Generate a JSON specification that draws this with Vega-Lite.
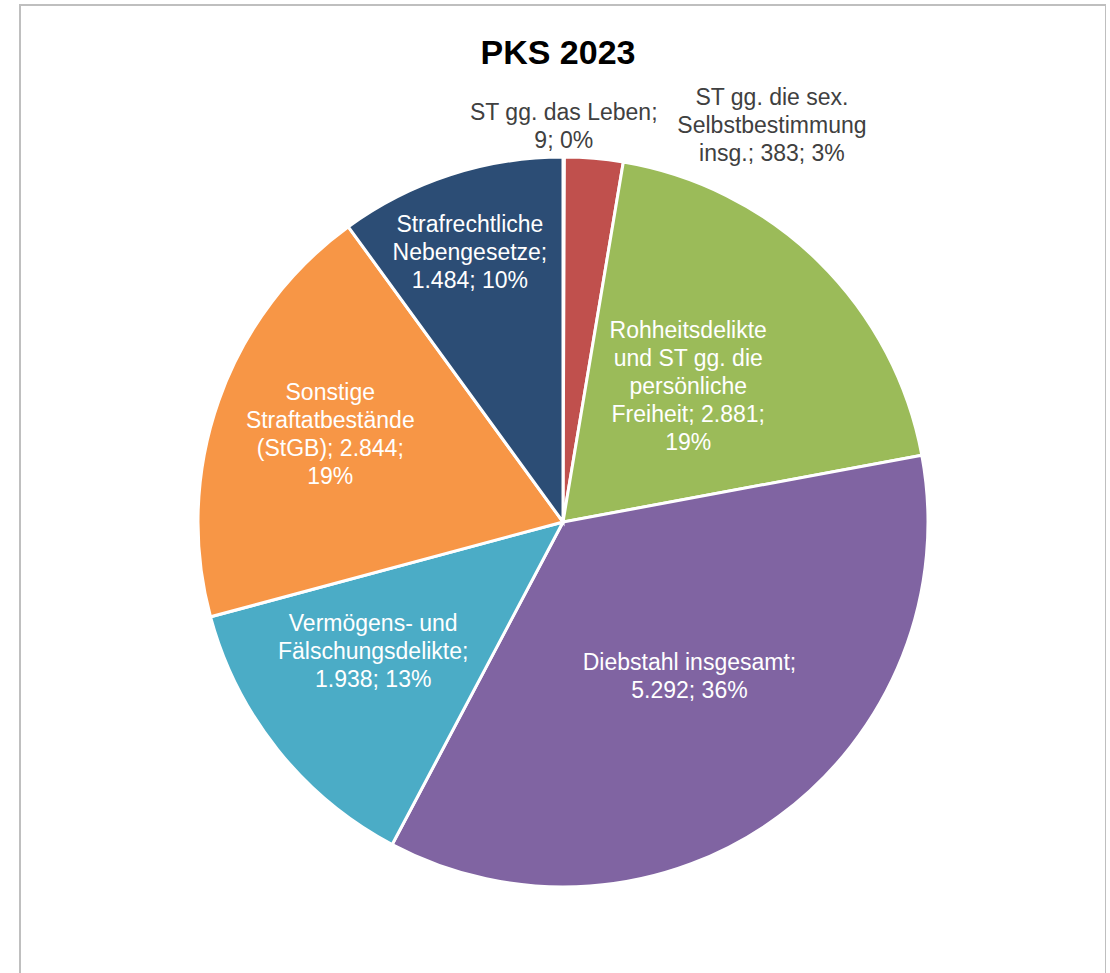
{
  "$schema": "https://vega.github.io/schema/vega-lite/v6.json",
  "autosize": {"type": "none"},
  "padding": {"left": 20, "top": 5, "right": 0, "bottom": 0},
  "width": 1086,
  "height": 1034,
  "background": "white",
  "view": {"stroke": "#BFBFBF", "strokeWidth": 2},
  "title": {"text": "PKS 2023", "fontSize": 34, "fontWeight": "bold", "font": "Liberation Sans", "color": "#000000", "anchor": "middle", "offset": -66, "dx": -5},
  "config": {"text": {"font": "Liberation Sans", "fontSize": 23, "lineBreak": "\n", "lineHeight": 28, "align": "center", "baseline": "middle"}},
  "data": {"values": [
    {"idx": 1, "key": "leben", "cat": "ST gg. das Leben", "value": 9, "label": "ST gg. das Leben;\n9; 0%"},
    {"idx": 2, "key": "sex", "cat": "ST gg. die sex. Selbstbestimmung insg.", "value": 383, "label": "ST gg. die sex.\nSelbstbestimmung\ninsg.; 383; 3%"},
    {"idx": 3, "key": "roh", "cat": "Rohheitsdelikte und ST gg. die persönliche Freiheit", "value": 2881, "label": "Rohheitsdelikte\nund ST gg. die\npersönliche\nFreiheit; 2.881;\n19%"},
    {"idx": 4, "key": "dieb", "cat": "Diebstahl insgesamt", "value": 5292, "label": "Diebstahl insgesamt;\n5.292; 36%"},
    {"idx": 5, "key": "verm", "cat": "Vermögens- und Fälschungsdelikte", "value": 1938, "label": "Vermögens- und\nFälschungsdelikte;\n1.938; 13%"},
    {"idx": 6, "key": "sonst", "cat": "Sonstige Straftatbestände (StGB)", "value": 2844, "label": "Sonstige\nStraftatbestände\n(StGB); 2.844;\n19%"},
    {"idx": 7, "key": "neben", "cat": "Strafrechtliche Nebengesetze", "value": 1484, "label": "Strafrechtliche\nNebengesetze;\n1.484; 10%"}
  ]},
  "encoding": {
    "theta": {"field": "value", "type": "quantitative", "stack": true},
    "order": {"field": "idx", "type": "quantitative"}
  },
  "layer": [
    {
      "mark": {"type": "arc", "outerRadius": 365, "stroke": "white", "strokeWidth": 3},
      "encoding": {
        "color": {"field": "key", "type": "nominal", "legend": null,
          "scale": {"domain": ["leben", "sex", "roh", "dieb", "verm", "sonst", "neben"],
                    "range": ["#4F81BD", "#C0504D", "#9BBB59", "#8064A2", "#4BACC6", "#F79646", "#2C4D75"]}}
      }
    },
    {
      "mark": {"type": "text", "radius": 395, "dy": -14, "color": "#404040"},
      "encoding": {"text": {"condition": {"test": "datum.key !== 'leben'", "value": ""}, "field": "label"}}
    },
    {
      "mark": {"type": "text", "radius": 400, "dx": 175, "dy": -25, "color": "#404040"},
      "encoding": {"text": {"condition": {"test": "datum.key !== 'sex'", "value": ""}, "field": "label"}}
    },
    {
      "mark": {"type": "text", "radius": 183, "dx": -3, "dy": -60, "color": "#FFFFFF"},
      "encoding": {"text": {"condition": {"test": "datum.key !== 'roh'", "value": ""}, "field": "label"}}
    },
    {
      "mark": {"type": "text", "radius": 200, "dx": 8, "dy": -20, "color": "#FFFFFF"},
      "encoding": {"text": {"condition": {"test": "datum.key !== 'dieb'", "value": ""}, "field": "label"}}
    },
    {
      "mark": {"type": "text", "radius": 230, "dx": -10, "dy": -41, "color": "#FFFFFF"},
      "encoding": {"text": {"condition": {"test": "datum.key !== 'verm'", "value": ""}, "field": "label"}}
    },
    {
      "mark": {"type": "text", "radius": 250, "dx": 3, "dy": -46, "color": "#FFFFFF"},
      "encoding": {"text": {"condition": {"test": "datum.key !== 'sonst'", "value": ""}, "field": "label"}}
    },
    {
      "mark": {"type": "text", "radius": 285, "dx": -5, "dy": -26, "color": "#FFFFFF"},
      "encoding": {"text": {"condition": {"test": "datum.key !== 'neben'", "value": ""}, "field": "label"}}
    }
  ]
}
